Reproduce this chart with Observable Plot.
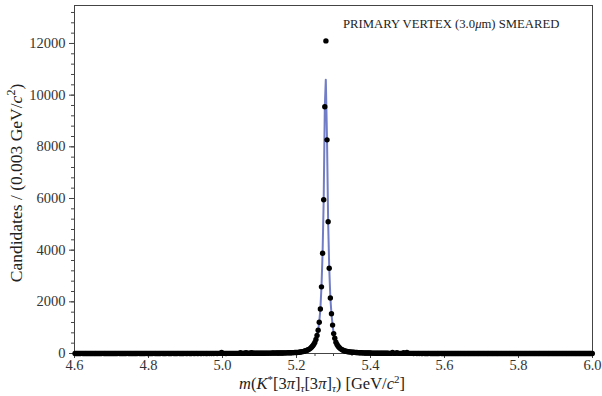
<!DOCTYPE html>
<html>
<head>
<meta charset="utf-8">
<script src="https://cdn.jsdelivr.net/npm/d3@7"></script>
<script src="https://cdn.jsdelivr.net/npm/@observablehq/plot@0.6"></script>
<style>
  html, body { margin: 0; padding: 0; background: white; }
</style>
</head>
<body>
<div id="chart"></div>
<script>
// Histogram: bins of 0.003 GeV starting at 4.6 GeV
const binStart = 4.6;
const binWidth = 0.003;
const counts = [
  1,0,2,1,0,1,3,0,1,2,0,1,1,0,2,1,0,1,2,1,
  0,2,1,1,0,3,1,0,2,1,1,0,2,1,0,1,2,0,1,3,
  1,0,2,1,1,0,2,3,1,0,1,2,0,1,2,1,0,3,1,2,
  1,1,2,0,3,1,2,1,0,2,1,3,1,2,0,1,2,1,3,1,
  2,1,0,3,2,1,2,1,3,0,2,1,2,3,1,2,1,0,2,3,
  2,1,3,2,1,2,4,1,2,3,1,2,3,2,1,4,2,3,1,2,
  3,2,4,1,3,2,3,4,2,3,5,3,45,4,3,5,2,4,3,5,
  4,3,5,6,4,5,3,6,5,30,6,5,7,6,28,7,6,8,7,30,
  8,7,9,8,10,9,11,10,12,11,13,12,14,13,15,14,16,15,17,18,
  16,17,17,18,19,20,21,22,23,24,25,26,27,28,30,31,33,35,37,38,
  40,45,50,56,63,72,82,95,110,125,145,170,200,240,290,350,430,540,700,900,
  1212,1720,2580,3880,5950,9550,12100,8270,5100,3300,2150,1536,1100,770,590,440,350,280,230,190,
  160,135,115,98,88,80,70,64,60,55,50,46,42,39,36,33,31,29,27,25,
  23,22,21,20,19,18,17,16,15,14,13,12,12,11,10,10,9,9,8,8,
  7,7,7,6,6,6,38,6,5,5,33,5,5,4,4,4,32,4,4,36,
  3,4,3,3,4,2,3,3,2,3,2,3,2,2,3,2,1,2,2,3,
  2,1,2,2,1,2,1,2,1,3,1,2,1,1,2,1,2,0,1,2,
  1,2,1,0,2,1,1,2,0,1,2,1,0,1,2,1,1,0,2,1,
  0,1,2,1,0,1,1,2,0,1,1,0,2,1,0,1,1,0,2,1,
  1,0,1,2,0,1,1,0,1,2,0,1,0,1,2,1,0,1,0,1,
  2,0,1,1,0,1,0,2,1,0,1,1,0,1,2,0,1,0,1,1,
  0,1,2,0,1,0,1,1,0,2,1,0,1,0,1,1,0,1,2,0,
  1,0,1,1,0,2,1,0,1,0,1,1,0,1,0,2,1,0,1,0,
  1,1,0,1,0,1,0
];

// Fit curve
const fitX = [4.6, 4.8, 5.0, 5.1, 5.15, 5.18, 5.2, 5.21, 5.22, 5.23, 5.24, 5.245, 5.2495, 5.2525, 5.2555, 5.2585, 5.2615, 5.2645, 5.2675, 5.2705, 5.2735, 5.2765, 5.2792, 5.2825, 5.2855, 5.2885, 5.2915, 5.2945, 5.2975, 5.3005, 5.3035, 5.3065, 5.312, 5.32, 5.33, 5.345, 5.36, 5.38, 5.42, 5.5, 5.7, 6.0];
const fitY = [1, 2, 5, 12, 20, 32, 50, 75, 110, 160, 250, 330, 430, 540, 700, 900, 1212, 1720, 2580, 3880, 5950, 9550, 10600, 8270, 5100, 3300, 2150, 1536, 1100, 770, 590, 440, 300, 200, 130, 80, 50, 30, 15, 7, 3, 1];

// Axis ticks
const xTicks = [4.6, 4.8, 5.0, 5.2, 5.4, 5.6, 5.8, 6.0];
const xMinor = d3.range(4.6, 6.0001, 0.05);
const yTicks = [0, 2000, 4000, 6000, 8000, 10000, 12000];
const yMinor = d3.range(0, 13400, 400);

const bins = counts.map((c, i) => ({x: binStart + binWidth * (i + 0.5), y: c}));
const fit = fitX.map((x, i) => ({x, y: fitY[i]}));

const svg = Plot.plot({
  width: 602,
  height: 396,
  marginLeft: 74,
  marginRight: 10,
  marginTop: 5,
  marginBottom: 43,
  x: {domain: [4.6, 6.0]},
  y: {domain: [0, 13470]},
  style: {fontFamily: "'Liberation Serif', serif", fontSize: "14.5px", color: "#333", background: "white"},
  marks: [
    Plot.axisY({ticks: yMinor, tickSize: 3, text: null, label: null, stroke: "#444"}),
    Plot.axisY({ticks: yTicks, tickSize: 5, tickPadding: 4, tickFormat: d => String(d), label: null, stroke: "#444"}),
    Plot.axisX({ticks: xMinor, tickSize: 3, text: null, label: null, stroke: "#444"}),
    Plot.axisX({ticks: xTicks, tickSize: 5, tickPadding: 1, tickFormat: d3.format(".1f"), label: null, stroke: "#444"}),
    Plot.frame({stroke: "#444", strokeWidth: 1}),
    Plot.line(fit, {x: "x", y: "y", stroke: "#4d5cb8", strokeWidth: 2, strokeOpacity: 0.8}),
    Plot.dot(bins, {x: "x", y: "y", r: 2.7, fill: "black", stroke: "none"})
  ]
});

const s = d3.select(svg);
const ff = "'Liberation Serif', serif";

// annotation
const ann = s.append("text")
  .attr("x", 343).attr("y", 27.5)
  .attr("text-anchor", "start")
  .attr("font-family", ff).attr("font-size", 12.7).attr("fill", "#222");
ann.append("tspan").text("PRIMARY VERTEX (3.0");
ann.append("tspan").attr("font-style", "italic").text("μ");
ann.append("tspan").text("m) SMEARED");

// y label
const yl = s.append("text")
  .attr("transform", "translate(22,183) rotate(-90)")
  .attr("text-anchor", "middle")
  .attr("font-family", ff).attr("font-size", 17.5).attr("fill", "#222");
yl.append("tspan").text("Candidates / (0.003 GeV/");
yl.append("tspan").attr("font-style", "italic").text("c");
yl.append("tspan").attr("baseline-shift", "super").attr("font-size", 12).text("2");
yl.append("tspan").text(")");

// x label
const xl = s.append("text")
  .attr("x", 322).attr("y", 389)
  .attr("text-anchor", "middle")
  .attr("font-family", ff).attr("font-size", 16.5).attr("fill", "#222");
xl.append("tspan").attr("font-style", "italic").text("m");
xl.append("tspan").text("(");
xl.append("tspan").attr("font-style", "italic").text("K");
xl.append("tspan").attr("baseline-shift", "super").attr("font-size", 11).text("*");
xl.append("tspan").text("[3");
xl.append("tspan").attr("font-style", "italic").text("π");
xl.append("tspan").text("]");
xl.append("tspan").attr("baseline-shift", "-3").attr("font-size", 11).attr("font-style", "italic").text("τ");
xl.append("tspan").text("[3");
xl.append("tspan").attr("font-style", "italic").text("π");
xl.append("tspan").text("]");
xl.append("tspan").attr("baseline-shift", "-3").attr("font-size", 11).attr("font-style", "italic").text("τ");
xl.append("tspan").text(") [GeV/");
xl.append("tspan").attr("font-style", "italic").text("c");
xl.append("tspan").attr("baseline-shift", "super").attr("font-size", 11).text("2");
xl.append("tspan").text("]");

document.getElementById("chart").appendChild(svg);
</script>
</body>
</html>
